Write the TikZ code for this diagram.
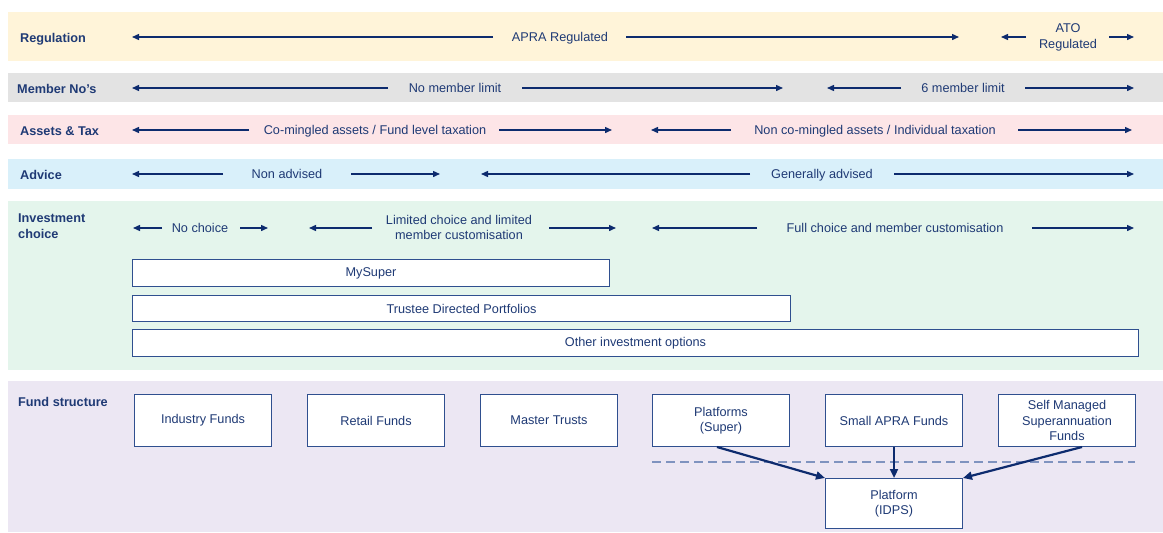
\documentclass[tikz,border=0pt]{standalone}
\usepackage{fontspec}
\setmainfont{Liberation Sans}
\usetikzlibrary{arrows.meta}
\definecolor{navy}{HTML}{1F3A75}
\definecolor{arrowc}{HTML}{0D2B6E}
\definecolor{bandY}{HTML}{FFF4D9}
\definecolor{bandG}{HTML}{E3E3E3}
\definecolor{bandP}{HTML}{FDE5E7}
\definecolor{bandB}{HTML}{D9F0FA}
\definecolor{bandM}{HTML}{E4F5EC}
\definecolor{bandL}{HTML}{ECE7F3}
\definecolor{boxc}{HTML}{2F4F8F}
\definecolor{dashc}{HTML}{7F93BF}
\begin{document}
\begin{tikzpicture}[x=1pt,y=-1pt,
 lbl/.style={anchor=west, font=\bfseries\fontsize{12.7}{16}\selectfont, text=navy, inner sep=0, align=left},
 txt/.style={font=\fontsize{12.7}{15.5}\selectfont, text=navy, align=center, inner sep=0, yshift=-1.5pt},
 txtone/.style={font=\fontsize{12.7}{15.5}\selectfont, text=navy, inner sep=0, text height=9.5pt, text depth=0.5pt},
 arr/.style={draw=arrowc, line width=1.4pt, -{Triangle[length=7pt,width=6pt]}},
 bigarr/.style={draw=arrowc, line width=2.2pt, -{Triangle[length=9pt,width=8pt]}},
 optbox/.style={draw=boxc, line width=1pt, fill=white, anchor=north west, font=\fontsize{12.7}{15.5}\selectfont, text=navy, inner sep=0},
 fundbox/.style={draw=boxc, line width=1pt, fill=white, anchor=north west, minimum width=137pt, minimum height=52pt, font=\fontsize{12.7}{15.5}\selectfont, text=navy, align=center, inner sep=0},
]
\useasboundingbox (0,0) rectangle (1163,533);
\fill[white] (0,0) rectangle (1163,533);
% bands
\fill[bandY] (8,12) rectangle (1163,61);
\fill[bandG] (8,73) rectangle (1163,102);
\fill[bandP] (8,115) rectangle (1163,144);
\fill[bandB] (8,159) rectangle (1163,189);
\fill[bandM] (8,201) rectangle (1163,370);
\fill[bandL] (8,381) rectangle (1163,532);

% row labels
\node[lbl] (lreg) at (20,39) {Regulation};
\node[lbl] (lmem) at (17,89) {Member No’s};
\node[lbl] (lass) at (20,131) {Assets \& Tax};
\node[lbl] (ladv) at (20,175) {Advice};
\node[lbl] (linv) at (18,226) {Investment\\choice};
\node[lbl] (lfund) at (18,402) {Fund structure};

% Regulation
\node[txtone] (apra) at (560,37) {APRA Regulated};
\coordinate (r1a) at (493,37); \coordinate (r1b) at (132,37);
\coordinate (r2a) at (626,37); \coordinate (r2b) at (959,37);
\draw[arr] (r1a) -- (r1b);
\draw[arr] (r2a) -- (r2b);
\node[txt] (ato) at (1068,36) {ATO\\Regulated};
\coordinate (r3a) at (1026,37); \coordinate (r3b) at (1001,37);
\coordinate (r4a) at (1109,37); \coordinate (r4b) at (1134,37);
\draw[arr] (r3a) -- (r3b);
\draw[arr] (r4a) -- (r4b);

% Member No's
\node[txtone] (nolim) at (455,88) {No member limit};
\coordinate (m1a) at (388,88); \coordinate (m1b) at (132,88);
\coordinate (m2a) at (522,88); \coordinate (m2b) at (783,88);
\draw[arr] (m1a) -- (m1b);
\draw[arr] (m2a) -- (m2b);
\node[txtone] (sixlim) at (963,88) {6 member limit};
\coordinate (m3a) at (901,88); \coordinate (m3b) at (827,88);
\coordinate (m4a) at (1025,88); \coordinate (m4b) at (1134,88);
\draw[arr] (m3a) -- (m3b);
\draw[arr] (m4a) -- (m4b);

% Assets & Tax
\node[txtone] (comi) at (375,130) {Co-mingled assets / Fund level taxation};
\coordinate (t1a) at (249,130); \coordinate (t1b) at (132,130);
\coordinate (t2a) at (499,130); \coordinate (t2b) at (612,130);
\draw[arr] (t1a) -- (t1b);
\draw[arr] (t2a) -- (t2b);
\node[txtone] (ncomi) at (875,130) {Non co-mingled assets / Individual taxation};
\coordinate (t3a) at (731,130); \coordinate (t3b) at (651,130);
\coordinate (t4a) at (1018,130); \coordinate (t4b) at (1132,130);
\draw[arr] (t3a) -- (t3b);
\draw[arr] (t4a) -- (t4b);

% Advice
\node[txtone] (nadv) at (287,174) {Non advised};
\coordinate (v1a) at (223,174); \coordinate (v1b) at (132,174);
\coordinate (v2a) at (351,174); \coordinate (v2b) at (440,174);
\draw[arr] (v1a) -- (v1b);
\draw[arr] (v2a) -- (v2b);
\node[txtone] (gadv) at (822,174) {Generally advised};
\coordinate (v3a) at (750,174); \coordinate (v3b) at (481,174);
\coordinate (v4a) at (894,174); \coordinate (v4b) at (1134,174);
\draw[arr] (v3a) -- (v3b);
\draw[arr] (v4a) -- (v4b);

% Investment choice
\node[txtone] (noch) at (200,228) {No choice};
\coordinate (i1a) at (162,228); \coordinate (i1b) at (133,228);
\coordinate (i2a) at (240,228); \coordinate (i2b) at (268,228);
\draw[arr] (i1a) -- (i1b);
\draw[arr] (i2a) -- (i2b);
\node[txt] (limch) at (459,226) {Limited choice and limited\\member customisation};
\coordinate (i3a) at (372,228); \coordinate (i3b) at (309,228);
\coordinate (i4a) at (549,228); \coordinate (i4b) at (616,228);
\draw[arr] (i3a) -- (i3b);
\draw[arr] (i4a) -- (i4b);
\node[txtone] (fullch) at (895,228) {Full choice and member customisation};
\coordinate (i5a) at (757,228); \coordinate (i5b) at (652,228);
\coordinate (i6a) at (1032,228); \coordinate (i6b) at (1134,228);
\draw[arr] (i5a) -- (i5b);
\draw[arr] (i6a) -- (i6b);

\node[optbox, minimum width=477pt, minimum height=27pt] (mysuper) at (132,259) {MySuper};
\node[optbox, minimum width=658pt, minimum height=26pt] (tdp) at (132,295) {Trustee Directed Portfolios};
\node[optbox, minimum width=1006pt, minimum height=27pt] (other) at (132,329) {Other investment options};

% Fund structure
\node[fundbox] (ind) at (134,394) {Industry Funds};
\node[fundbox] (ret) at (307,394) {Retail Funds};
\node[fundbox] (mas) at (480,394) {Master Trusts};
\node[fundbox] (plat) at (652,394) {Platforms\\(Super)};
\node[fundbox] (small) at (825,394) {Small APRA Funds};
\node[fundbox] (smsf) at (998,394) {Self Managed\\Superannuation\\Funds};
\node[fundbox, minimum height=50pt] (idps) at (825,478) {Platform\\(IDPS)};

\coordinate (dl) at (652,462); \coordinate (dr) at (1135,462);
\draw[dashc, line width=1.2pt, dash pattern=on 9pt off 5pt] (dl) -- (dr);

\draw[bigarr] ([xshift=-4pt]plat.south) -- (idps.north west);
\draw[bigarr] (small.south) -- (idps.north);
\draw[bigarr] ([xshift=15pt]smsf.south) -- (idps.north east);
\end{tikzpicture}
\end{document}
